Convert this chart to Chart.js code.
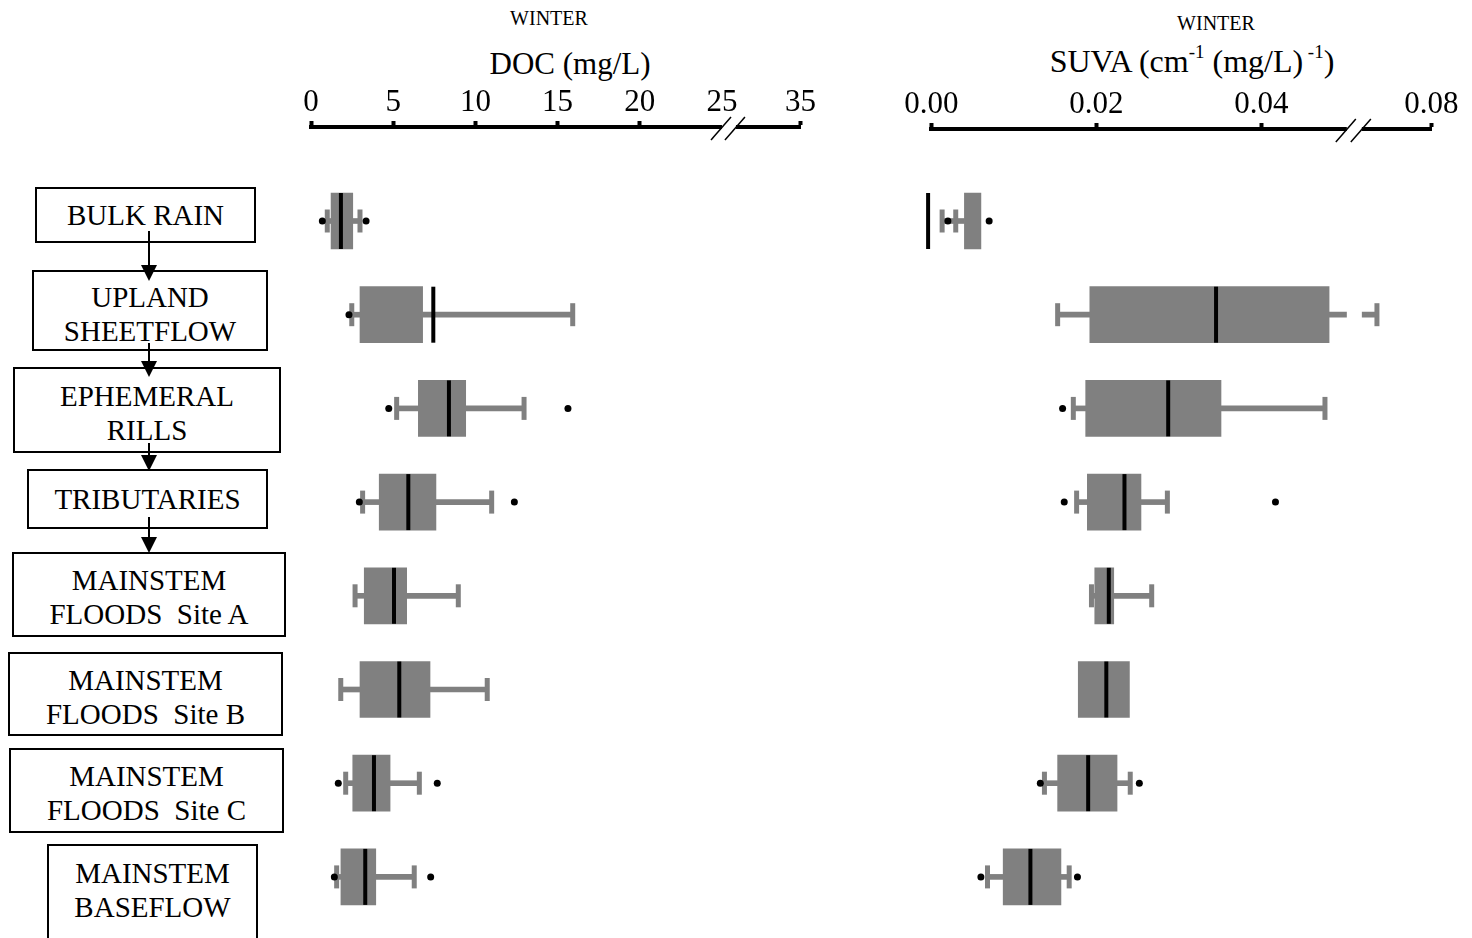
<!DOCTYPE html>
<html>
<head>
<meta charset="utf-8">
<script src="https://cdn.jsdelivr.net/npm/chart.js@4.4.1/dist/chart.umd.min.js"></script>
<style>
body{margin:0;width:1472px;height:938px;overflow:hidden;background:#fff;position:relative;font-family:"Liberation Serif","Times New Roman",serif;color:#000}
.t{position:absolute;transform:translate(-50%,-50%);white-space:nowrap}
.box{position:absolute;border:2px solid #000;box-sizing:border-box;background:#fff}
.lbl{position:absolute;transform:translate(-50%,-50%);text-align:center;font-size:29px;line-height:34px;white-space:pre}
canvas{position:absolute;top:0}
sup{font-size:19px;vertical-align:14px;line-height:0}
</style>
</head>
<body>
<div class="t" style="left:549px;top:18px;font-size:20px">WINTER</div>
<div class="t" style="left:570px;top:64px;font-size:31px">DOC (mg/L)</div>
<div class="t" style="left:1216px;top:23px;font-size:20px">WINTER</div>
<div class="t" style="left:1192px;top:61px;font-size:32px">SUVA (cm<sup>-1</sup> (mg/L)<sup> -1</sup>)</div>
<div id="flow"></div>
<svg id="arrows" width="1472" height="938" style="position:absolute;left:0;top:0"></svg>
<canvas id="doc" width="600" height="938" style="left:260px"></canvas>
<canvas id="suva" width="592" height="938" style="left:880px"></canvas>
<script>
// categories (flow diagram, top to bottom)
const categories = [
  ["BULK RAIN"], ["UPLAND", "SHEETFLOW"], ["EPHEMERAL", "RILLS"], ["TRIBUTARIES"],
  ["MAINSTEM", "FLOODS  Site A"], ["MAINSTEM", "FLOODS  Site B"],
  ["MAINSTEM", "FLOODS  Site C"], ["MAINSTEM", "BASEFLOW"]
];

// DOC (mg/L)
const docLow  = [0.99, 2.48, 5.21, 3.14, 2.68, 1.81, 2.11, 1.56];
const docQ1   = [1.22, 2.98, 6.53, 4.15, 3.24, 2.98, 2.54, 1.82];
const docMed  = [1.82, 7.44, 8.39, 5.92, 5.05, 5.37, 3.83, 3.30];
const docQ3   = [2.54, 6.79, 9.41, 7.60, 5.82, 7.24, 4.81, 3.94];
const docHigh = [2.98, 15.92, 12.96, 10.99, 8.96, 10.72, 6.59, 6.28];
const docOut  = [[0.69, 3.35], [2.31], [4.73, 15.63], [2.94, 12.37], [], [], [1.66, 7.68], [1.42, 7.28]];

// SUVA (cm-1 (mg/L)-1)
const suvaLow  = [0.0013, 0.0153, 0.0172, 0.0176, 0.0194, null, 0.0137, 0.0068];
const suvaQ1   = [0.0040, 0.0192, 0.0187, 0.0189, 0.0198, 0.0178, 0.0153, 0.0087];
const suvaMed  = [-0.0004, 0.0345, 0.0287, 0.0234, 0.0215, 0.0212, 0.0190, 0.0120];
const suvaQ3   = [0.0060, 0.0482, 0.0351, 0.0254, 0.0221, 0.0240, 0.0225, 0.0157];
const suvaHigh = [null, 0.0540, 0.0477, 0.0286, 0.0267, null, 0.0241, 0.0167];
const suvaOut  = [[0.0020, 0.0070], [], [0.0159], [0.0161, 0.0417], [], [], [0.0132, 0.0252], [0.0060, 0.0177]];
const suvaExtraCap = [0.00295, null, null, null, null, null, null, null];

// broken axes: last tick sits at the end of the compressed part
const docTicks = [0, 5, 10, 15, 20, 25, 29.77];
const docTickLabels = ["0", "5", "10", "15", "20", "25", "35"];
const docBreak = [25.0, 25.85];
const suvaTicks = [0, 0.02, 0.04, 0.0606];
const suvaTickLabels = ["0.00", "0.02", "0.04", "0.08"];
const suvaBreak = [0.05035, 0.05217];

const GRAY = "#808080";
const FONT = "'Liberation Serif', 'Times New Roman', serif";

// ---- flow diagram boxes on the left ----
const boxLayout = [ // left, top, width, height, text centre y
  [35, 187, 221, 56, 215], [32, 270, 236, 81, 314], [13, 367, 268, 86, 413],
  [27, 469, 241, 60, 499], [12, 552, 274, 85, 597], [8, 652, 275, 84, 697],
  [9, 748, 275, 85, 793], [47, 844, 211, 120, 890]
];
let html = "";
categories.forEach((lines, i) => {
  const [l, t, w, h, cy] = boxLayout[i];
  html += `<div class="box" style="left:${l}px;top:${t}px;width:${w}px;height:${h}px"></div>`;
  html += `<div class="lbl" style="left:${l + w / 2}px;top:${cy}px">${lines.join("\n")}</div>`;
});
document.getElementById("flow").innerHTML = html;

let svg = "";
[[149, 231, 281], [149, 343, 377], [149, 443, 471], [149, 517, 553]].forEach(([x, y1, y2]) => {
  svg += `<line x1="${x}" y1="${y1}" x2="${x}" y2="${y2 - 12}" stroke="#000" stroke-width="2"/>`;
  svg += `<polygon points="${x - 8},${y2 - 16} ${x + 8},${y2 - 16} ${x},${y2}" fill="#000"/>`;
});
document.getElementById("arrows").innerHTML = svg;

// ---- box plots ----
function boxDatasets(low, q1, med, q3, high, out, extraCap) {
  const whisk = [], caps = [], boxes = [], meds = [], dots = [];
  categories.forEach((c, i) => {
    if (low[i] != null) { whisk.push({x: [low[i], q1[i]], y: i}); caps.push({x: low[i], y: i}); }
    if (high[i] != null) { whisk.push({x: [q3[i], high[i]], y: i}); caps.push({x: high[i], y: i}); }
    if (extraCap && extraCap[i] != null) caps.push({x: extraCap[i], y: i});
    boxes.push({x: [q1[i], q3[i]], y: i});
    meds.push({x: med[i], y: i});
    out[i].forEach(v => dots.push({x: v, y: i}));
  });
  return [
    {type: "bar", indexAxis: "y", grouped: false, order: 5, data: whisk, backgroundColor: GRAY,
     barThickness: 5, maxBarThickness: 5, borderWidth: 0, clip: false},
    {type: "bar", indexAxis: "y", grouped: false, order: 4, data: boxes, backgroundColor: GRAY,
     barThickness: 56, maxBarThickness: 56, borderWidth: 0, clip: false},
    {type: "scatter", order: 3, data: caps, pointStyle: "line", pointRotation: 90, pointRadius: 11.5,
     pointBorderWidth: 5, pointBorderColor: GRAY, clip: false},
    {type: "scatter", order: 2, data: meds, pointStyle: "line", pointRotation: 90, pointRadius: 28,
     pointBorderWidth: 4, pointBorderColor: "#000", clip: false},
    {type: "scatter", order: 1, data: dots, pointStyle: "circle", pointRadius: 3.5,
     pointBackgroundColor: "#000", pointBorderWidth: 0, clip: false}
  ];
}

const axisBreak = {
  id: "axisBreak",
  afterDatasetsDraw(chart, args, opts) {
    const {ctx, chartArea} = chart;
    const sx = chart.scales.x;
    const a = sx.getPixelForValue(opts.range[0]);
    const b = sx.getPixelForValue(opts.range[1]);
    const y = chartArea.top;
    ctx.save();
    ctx.fillStyle = "#fff";
    ctx.fillRect(a, y - 4, b - a, chartArea.bottom - y + 4);
    ctx.strokeStyle = "#000";
    ctx.lineWidth = 1.5;
    [a, b].forEach(x => {
      ctx.beginPath();
      ctx.moveTo(x - 11, y + 13);
      ctx.lineTo(x + 9, y - 10);
      ctx.stroke();
    });
    ctx.restore();
  }
};

// row centres in page pixels: first row at 221, one row every 93.7 px
const ROW0 = 221, ROW_STEP = 93.7;

function makeChart(id, datasets, o) {
  const chart = new Chart(document.getElementById(id), {
    type: "bar",
    data: {datasets},
    plugins: [axisBreak],
    options: {
      responsive: false,
      animation: false,
      events: [],
      layout: {padding: {left: o.padL, right: o.padR, top: o.axisY - 60, bottom: 0}},
      plugins: {legend: {display: false}, tooltip: {enabled: false}, axisBreak: {range: o.brk}},
      scales: {
        x: {
          type: "linear", position: "top", offset: false, min: 0, max: o.ticks[o.ticks.length - 1],
          afterBuildTicks: s => { s.ticks = o.ticks.map(v => ({value: v})); },
          afterFit: s => { s.height = 60; },
          ticks: {callback: (v, i) => o.labels[i], color: "#000", padding: 0, maxRotation: 0,
                  autoSkip: false, font: {family: FONT, size: o.fontSize}},
          grid: {offset: false, drawOnChartArea: false, drawTicks: true, tickLength: 6, tickWidth: 4,
                 tickColor: c => (o.noTick.includes(c.index) ? "rgba(0,0,0,0)" : "#000")},
          border: {display: true, width: 4, color: "#000"}
        },
        y: {
          type: "linear", reverse: true, display: false, offset: false, grace: 0,
          grid: {offset: false}, min: -1, max: 8
        }
      }
    }
  });
  // fit the row scale to the real plot area so rows land on fixed page rows
  const ca = chart.chartArea;
  const yMin = (ca.top - ROW0) / ROW_STEP;
  chart.options.scales.y.min = yMin;
  chart.options.scales.y.max = yMin + (ca.bottom - ca.top) / ROW_STEP;
  chart.update();
  return chart;
}

makeChart("doc", boxDatasets(docLow, docQ1, docMed, docQ3, docHigh, docOut), {
  padL: 51, padR: 59.6, axisY: 127, ticks: docTicks, labels: docTickLabels,
  noTick: [5], brk: docBreak, fontSize: 31
});
makeChart("suva", boxDatasets(suvaLow, suvaQ1, suvaMed, suvaQ3, suvaHigh, suvaOut, suvaExtraCap), {
  padL: 51.4, padR: 40.6, axisY: 129, ticks: suvaTicks, labels: suvaTickLabels,
  noTick: [], brk: suvaBreak, fontSize: 31
});
</script>
</body>
</html>
